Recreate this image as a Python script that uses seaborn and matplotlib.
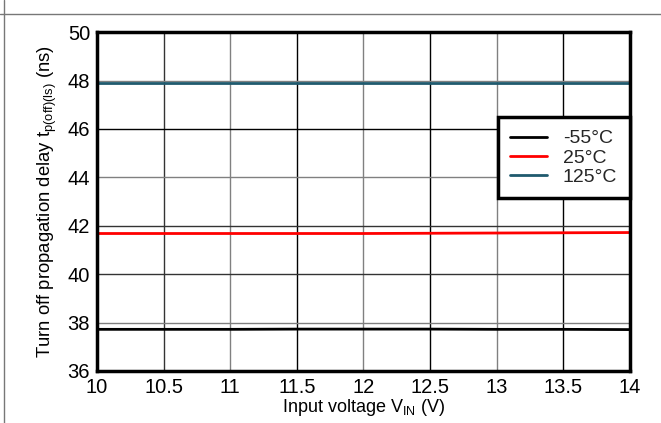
import matplotlib
matplotlib.use("Agg")
import matplotlib.pyplot as plt
from matplotlib.lines import Line2D
import seaborn as sns
import pandas as pd

sns.set_theme(style="white")
plt.rcParams['font.family'] = ['Liberation Sans', 'DejaVu Sans']

vin = [10, 10.5, 11, 11.5, 12, 12.5, 13, 13.5, 14]
t_m55 = [37.72, 37.72, 37.72, 37.73, 37.73, 37.73, 37.72, 37.72, 37.71]
t_25 = [41.68, 41.68, 41.68, 41.68, 41.68, 41.69, 41.70, 41.71, 41.72]
t_125 = [47.88, 47.88, 47.88, 47.88, 47.88, 47.88, 47.88, 47.88, 47.88]
labels = ['-55°C', '25°C', '125°C']
colors = ['#000000', '#ff0000', '#1f5a6e']
x_ticks = [10, 10.5, 11, 11.5, 12, 12.5, 13, 13.5, 14]
x_ticklabels = ['10', '10.5', '11', '11.5', '12', '12.5', '13', '13.5', '14']
y_ticks = [36, 38, 40, 42, 44, 46, 48, 50]

df = pd.concat([
    pd.DataFrame({'vin': vin, 't': t_m55, 'temp': labels[0]}),
    pd.DataFrame({'vin': vin, 't': t_25, 'temp': labels[1]}),
    pd.DataFrame({'vin': vin, 't': t_125, 'temp': labels[2]}),
])

fig = plt.figure(figsize=(6.61, 4.23), dpi=100)
ax = fig.add_axes([0.1467, 0.123, 0.806, 0.801])

sns.lineplot(data=df, x='vin', y='t', hue='temp', palette=colors,
             hue_order=labels, linewidth=2, ax=ax)

ax.set_xlim(10, 14)
ax.set_ylim(36, 50)
ax.set_xticks(x_ticks)
ax.set_xticklabels(x_ticklabels)
ax.set_yticks(y_ticks)
ax.tick_params(axis='both', labelsize=14.5, length=0, colors='black')
ax.tick_params(axis='x', pad=5)
ax.tick_params(axis='y', pad=5)

ax.grid(True, linewidth=1.0)
GRAY, DARK, BLACK = '#808080', '#333333', '#000000'
x_grid_cols = [BLACK, DARK, GRAY, BLACK, GRAY, BLACK, GRAY, BLACK, BLACK]
y_grid_cols = [BLACK, GRAY, DARK, DARK, GRAY, BLACK, GRAY, BLACK]
for gl, c in zip(ax.xaxis.get_gridlines(), x_grid_cols):
    gl.set_color(c)
for gl, c in zip(ax.yaxis.get_gridlines(), y_grid_cols):
    gl.set_color(c)

for s in ax.spines.values():
    s.set_visible(True)
    s.set_color('black')
    s.set_linewidth(2.5)

ax.set_xlabel('Input voltage V$_{\\mathregular{IN}}$ (V)', fontsize=13, labelpad=0, color='black')
ax.set_ylabel('Turn off propagation delay t$_{\\mathregular{p(off)(ls)}}$ (ns)', fontsize=13.3,
              labelpad=6, color='black')

leg = ax.legend(title=None, loc='upper right', bbox_to_anchor=(1.0, 0.749),
                fontsize=14, frameon=True, fancybox=False, framealpha=1,
                handlelength=1.9, borderpad=0.65, labelspacing=0.08,
                handletextpad=0.8, borderaxespad=0.0)
leg.get_frame().set_edgecolor('black')
leg.get_frame().set_linewidth(2.5)
for lh in leg.get_lines():
    lh.set_linewidth(2)

fig.add_artist(Line2D([0, 1], [1 - 14 / 423, 1 - 14 / 423], transform=fig.transFigure,
                      color='#777777', linewidth=1))
fig.add_artist(Line2D([4 / 661, 4 / 661], [0, 1], transform=fig.transFigure,
                      color='#777777', linewidth=1))

fig.savefig('out.png', dpi=100)
